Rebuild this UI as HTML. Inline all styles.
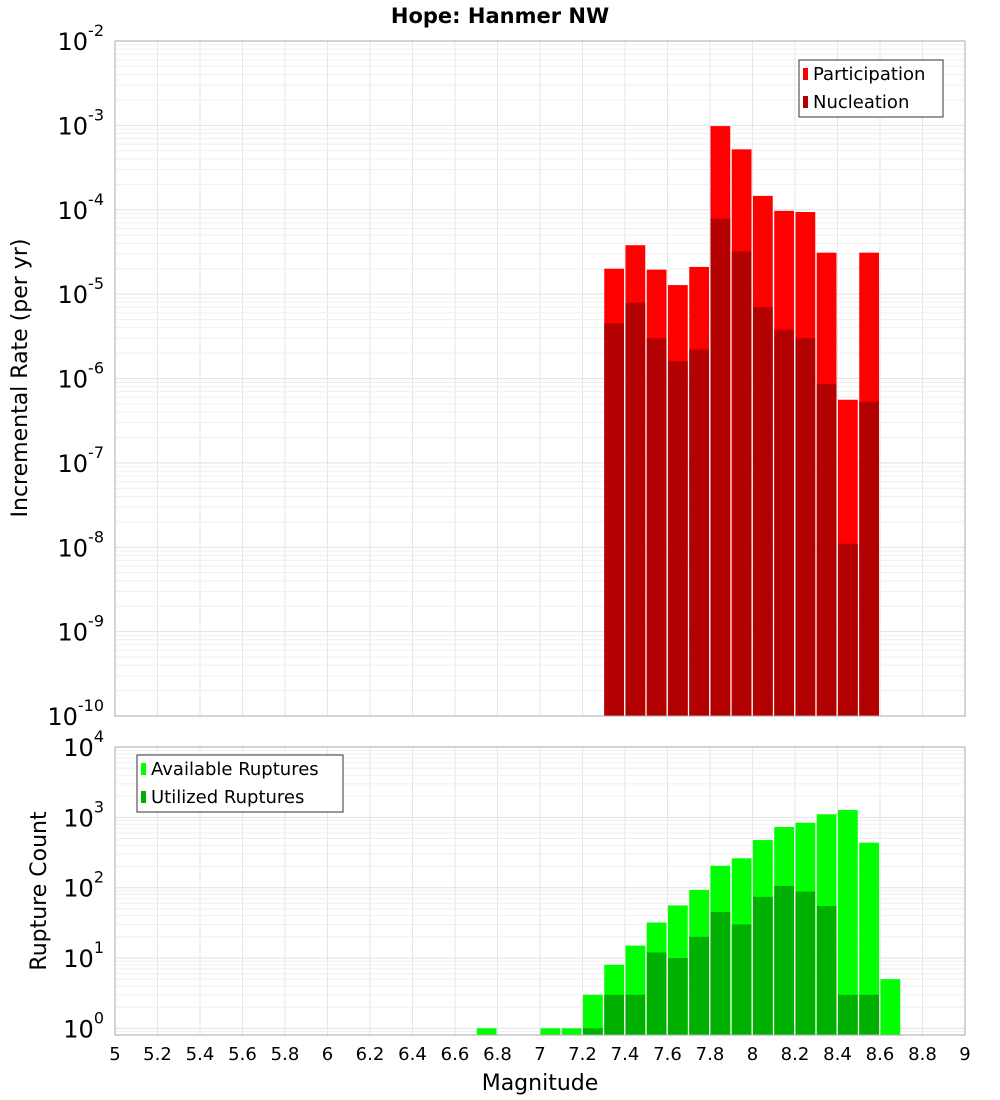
<!DOCTYPE html>
<html><head><meta charset="utf-8"><style>
body{margin:0;background:#fff;}
svg{display:block;font-family:"Liberation Sans","DejaVu Sans",sans-serif;}
</style></head><body>
<svg id="c" width="1000" height="1100">
<text x="500" y="23" text-anchor="middle" font-size="21" font-weight="bold" font-family="DejaVu Sans, sans-serif">Hope: Hanmer NW</text>
<text transform="translate(27,378) rotate(-90)" text-anchor="middle" font-size="22" font-family="DejaVu Sans, sans-serif">Incremental Rate (per yr)</text>
<text transform="translate(46,891) rotate(-90)" text-anchor="middle" font-size="22" font-family="DejaVu Sans, sans-serif">Rupture Count</text>
<text x="540" y="1090" text-anchor="middle" font-size="22" font-family="DejaVu Sans, sans-serif">Magnitude</text>
<g id="g"></g>
</svg>
<script>
const binStarts=[7.3,7.4,7.5,7.6,7.7,7.8,7.9,8.0,8.1,8.2,8.3,8.4,8.5];
const participation=[2.0e-5,3.8e-5,1.95e-5,1.28e-5,2.1e-5,9.8e-4,5.2e-4,1.46e-4,9.7e-5,9.4e-5,3.1e-5,5.6e-7,3.1e-5];
const nucleation=[4.5e-6,7.9e-6,3.0e-6,1.6e-6,2.2e-6,7.8e-5,3.2e-5,7.0e-6,3.8e-6,3.0e-6,8.6e-7,1.1e-8,5.3e-7];
const countBins=[6.7,7.0,7.1,7.2,7.3,7.4,7.5,7.6,7.7,7.8,7.9,8.0,8.1,8.2,8.3,8.4,8.5,8.6];
const available=[1,1,1,3,8,15,32,56,93,205,262,476,730,841,1107,1274,437,5];
const utilized=[0,0,0,1,3,3,12,10,20,45,30,74,106,88,55,3,3,0];
const xTicks=[5,5.2,5.4,5.6,5.8,6,6.2,6.4,6.6,6.8,7,7.2,7.4,7.6,7.8,8,8.2,8.4,8.6,8.8,9];
const topExps=[-2,-3,-4,-5,-6,-7,-8,-9,-10];
const botExps=[4,3,2,1,0];

const NS="http://www.w3.org/2000/svg";
const g=document.getElementById('g');
function el(t,a,p){const e=document.createElementNS(NS,t);for(const k in a)e.setAttribute(k,a[k]);(p||g).appendChild(e);return e;}
const X0=115,X1=965;
const xs=m=>X0+(m-5)/4*(X1-X0);
const T0=41,T1=716;
const yTop=v=>T0+(-2-Math.log10(v))*(T1-T0)/8;
const B0=747,BZ=1028.3,BD=70.3,B1=1035;
const yBot=v=>BZ-Math.log10(v)*BD;

function grid(y0,y1,decFn,eMin,eMax){
  for(const t of xTicks){const l=el('line',{x1:xs(t),x2:xs(t),y1:y0,y2:y1,stroke:'#e6e6e6','stroke-width':1});
  }
  for(let e=eMin;e<=eMax;e++){for(let k=1;k<10;k++){const y=decFn(k*Math.pow(10,e));if(y<y0-0.5||y>y1+0.5)continue;
    const l=el('line',{x1:X0,x2:X1,y1:y,y2:y,stroke:k==1?'#e2e2e2':'#efefef','stroke-width':1});
    }}
}
el('rect',{x:X0,y:T0,width:X1-X0,height:T1-T0,fill:'#fff'});
grid(T0,T1,yTop,-10,-3);
grid(B0,B1,yBot,-1,3);

const bw=xs(5.1)-xs(5)-1.5;
binStarts.forEach((m,i)=>{
  let r=el('rect',{x:xs(m)+0.5,y:yTop(participation[i]),width:bw,height:T1-yTop(participation[i]),fill:'#ff0000'});
  
  r=el('rect',{x:xs(m)+0.5,y:yTop(nucleation[i]),width:bw,height:T1-yTop(nucleation[i]),fill:'#b30000'});
  
});
countBins.forEach((m,i)=>{
  let r=el('rect',{x:xs(m)+0.5,y:yBot(available[i]),width:bw,height:B1-yBot(available[i]),fill:'#00ff00'});
  
  if(utilized[i]>0){r=el('rect',{x:xs(m)+0.5,y:yBot(utilized[i]),width:bw,height:B1-yBot(utilized[i]),fill:'#00b000'});
  }
});
let f=el('rect',{x:X0,y:T0,width:X1-X0,height:T1-T0,fill:'none',stroke:'#aaa'});

f=el('rect',{x:X0,y:B0,width:X1-X0,height:B1-B0,fill:'none',stroke:'#aaa'});


function ylab(y,e){const t=el('text',{x:104,y:y+9,'text-anchor':'end','font-size':24,'font-family':'DejaVu Sans, sans-serif'});
  
  t.textContent='10';const s=el('tspan',{dy:-14,'font-size':16},t);s.textContent=String(e);}
topExps.forEach(e=>ylab(yTop(Math.pow(10,e)),e));
botExps.forEach(e=>ylab(yBot(Math.pow(10,e)),e));
xTicks.forEach(t=>{const x=el('text',{x:xs(t),y:1060,'text-anchor':'middle','font-size':18,'font-family':'DejaVu Sans, sans-serif'});
  
  x.textContent=String(Math.round(t*10)/10);});

function legend(x,y,w,items){const lg=el('g',{});
  
  el('rect',{x:x,y:y,width:w,height:57,fill:'#fff',stroke:'#333'},lg);
  items.forEach((it,i)=>{el('rect',{x:x+4,y:y+8+i*28,width:5,height:12,fill:it[1]},lg);
    const t=el('text',{x:x+14,y:y+20+i*28,'font-size':18,'font-family':'DejaVu Sans, sans-serif'},lg);
    t.textContent=it[0];});}
legend(799,60,144,[['Participation','#ff0000'],['Nucleation','#b30000']]);
legend(137,755,206,[['Available Ruptures','#00ff00'],['Utilized Ruptures','#00b000']]);
</script>
</body></html>
